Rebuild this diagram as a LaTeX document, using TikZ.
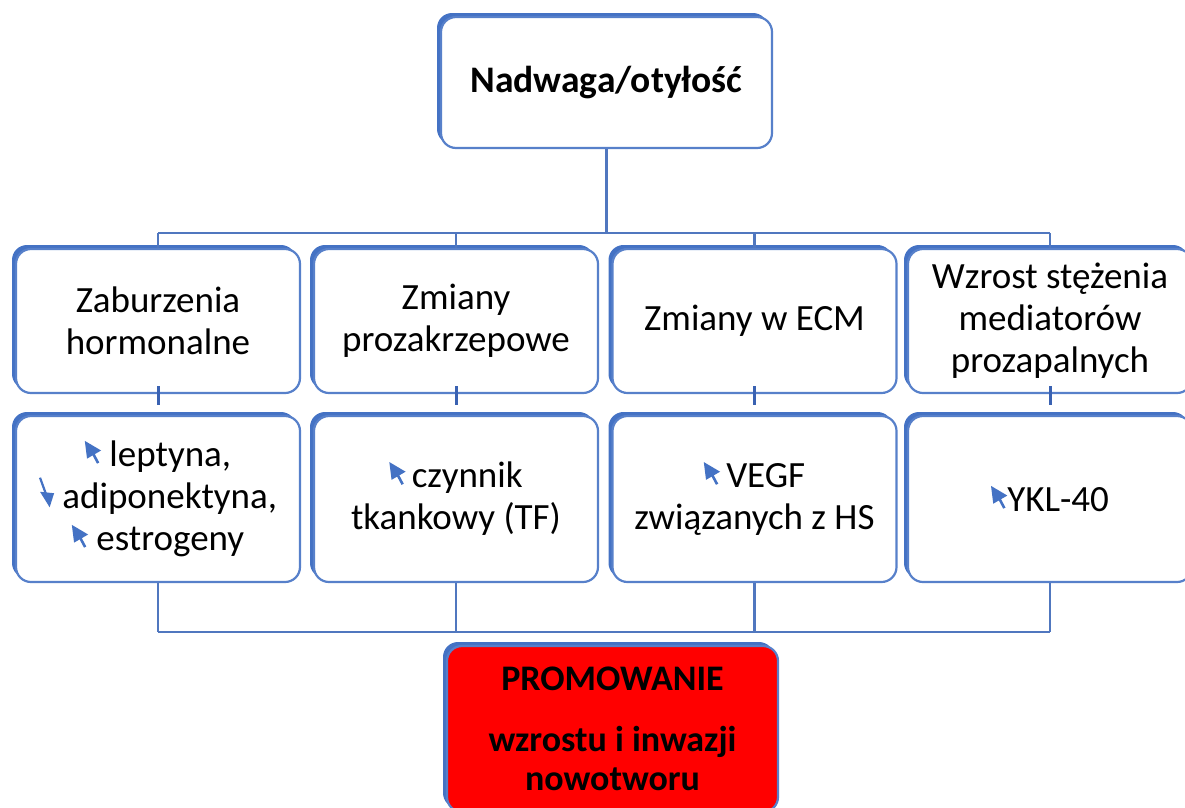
\documentclass[tikz,border=0pt]{standalone}
\usepackage{fontspec}
\setmainfont{Carlito}
\usetikzlibrary{shadows,positioning}
\definecolor{boxblue}{HTML}{4472C4}
\definecolor{lineblue}{HTML}{5077BF}
\definecolor{stubblue}{HTML}{3A62B2}
\definecolor{promored}{HTML}{FF0000}
\tikzset{
  card/.style    ={rectangle,rounded corners=15pt,draw=boxblue!90,line width=2.2pt,
                   fill=white,align=center,inner sep=4pt,
                   font=\fontsize{37}{42}\selectfont,
                   drop shadow={shadow xshift=-4pt,shadow yshift=4pt,
                                fill=boxblue,opacity=1}},
  headbox/.style ={card,minimum width=331pt,minimum height=131pt,
                   font=\fontsize{37.5}{42}\selectfont\bfseries},
  rowA/.style    ={card,minimum width=284pt,minimum height=144pt},
  rowB/.style    ={card,minimum width=284pt,minimum height=166pt},
  promobox/.style={card,fill=promored,minimum width=331pt,minimum height=166pt,
                   font=\fontsize{36}{39}\selectfont\bfseries},
  bus/.style     ={draw=lineblue,line width=2.2pt},
  stub/.style    ={draw=stubblue,line width=3pt},
  ico/.style     ={baseline=0pt,sharp corners},
}
% small blue arrows in front of the factors
\newcommand{\upico}{\tikz[ico]{%
  \draw[boxblue,line width=0.07em] (0.36em,0.1em) -- (0.2em,0.4em);
  \fill[boxblue] (0em,0.7em) -- (0.44em,0.44em) -- (0.06em,0.22em) -- cycle;}}
\newcommand{\dnico}{\tikz[ico]{%
  \draw[boxblue,line width=0.06em] (0.02em,0.84em) -- (0.18em,0.4em);
  \fill[boxblue] (0.02em,0.46em) -- (0.4em,0.42em) -- (0.28em,0.04em) -- cycle;}}

\begin{document}
\begin{tikzpicture}[x=1pt,y=-1pt]
\useasboundingbox (0,0) rectangle (1185,807);

% Nodes
\node[headbox] (otyl) at (606.5,82.5) {Nadwaga/otyłość};

\node[rowA] (zab) at (158,321)    {Zaburzenia\\ hormonalne};
\node[rowA] (zmp) at (456,321)    {Zmiany\\ prozakrzepowe};
\node[rowA] (ecm) at (754.5,321)  {Zmiany w ECM};
\node[rowA] (med) at (1050,321)   {Wzrost stężenia\\ mediatorów\\ prozapalnych};

\node[rowB] (horm) at (158,499)   {\upico\ leptyna,\\ \dnico\ adiponektyna,\\ \upico\ estrogeny};
\node[rowB] (tf)   at (456,499)   {\upico\,czynnik\\ tkankowy (TF)};
\node[rowB] (vegf) at (754.5,499) {\upico\,VEGF\\ związanych z HS};
\node[rowB] (ykl)  at (1050,499)  {\upico YKL-40};

\coordinate (busT) at (0,233);
\coordinate (busB) at (0,632);

% Edges
\draw[bus] (otyl.south) -- (otyl.south |- busT);
\draw[bus] (zab.north |- busT) -- (med.north |- busT);
\foreach \b in {zab,zmp,ecm,med}
  \draw[bus] (\b.north |- busT) -- (\b.north);

\foreach \a/\b in {zab/horm,zmp/tf,ecm/vegf,med/ykl}
  \draw[stub] ([yshift=8pt]\a.south) -- ([yshift=10pt]\b.north);

\foreach \b in {horm,tf,vegf,ykl}
  \draw[bus] (\b.south) -- (\b.south |- busB);
\draw[bus] (horm.south |- busB) -- (ykl.south |- busB);

\node[promobox] (promo) at (612.5,729) {PROMOWANIE\\[22pt] wzrostu i inwazji\\ nowotworu};

\end{tikzpicture}
\end{document}
